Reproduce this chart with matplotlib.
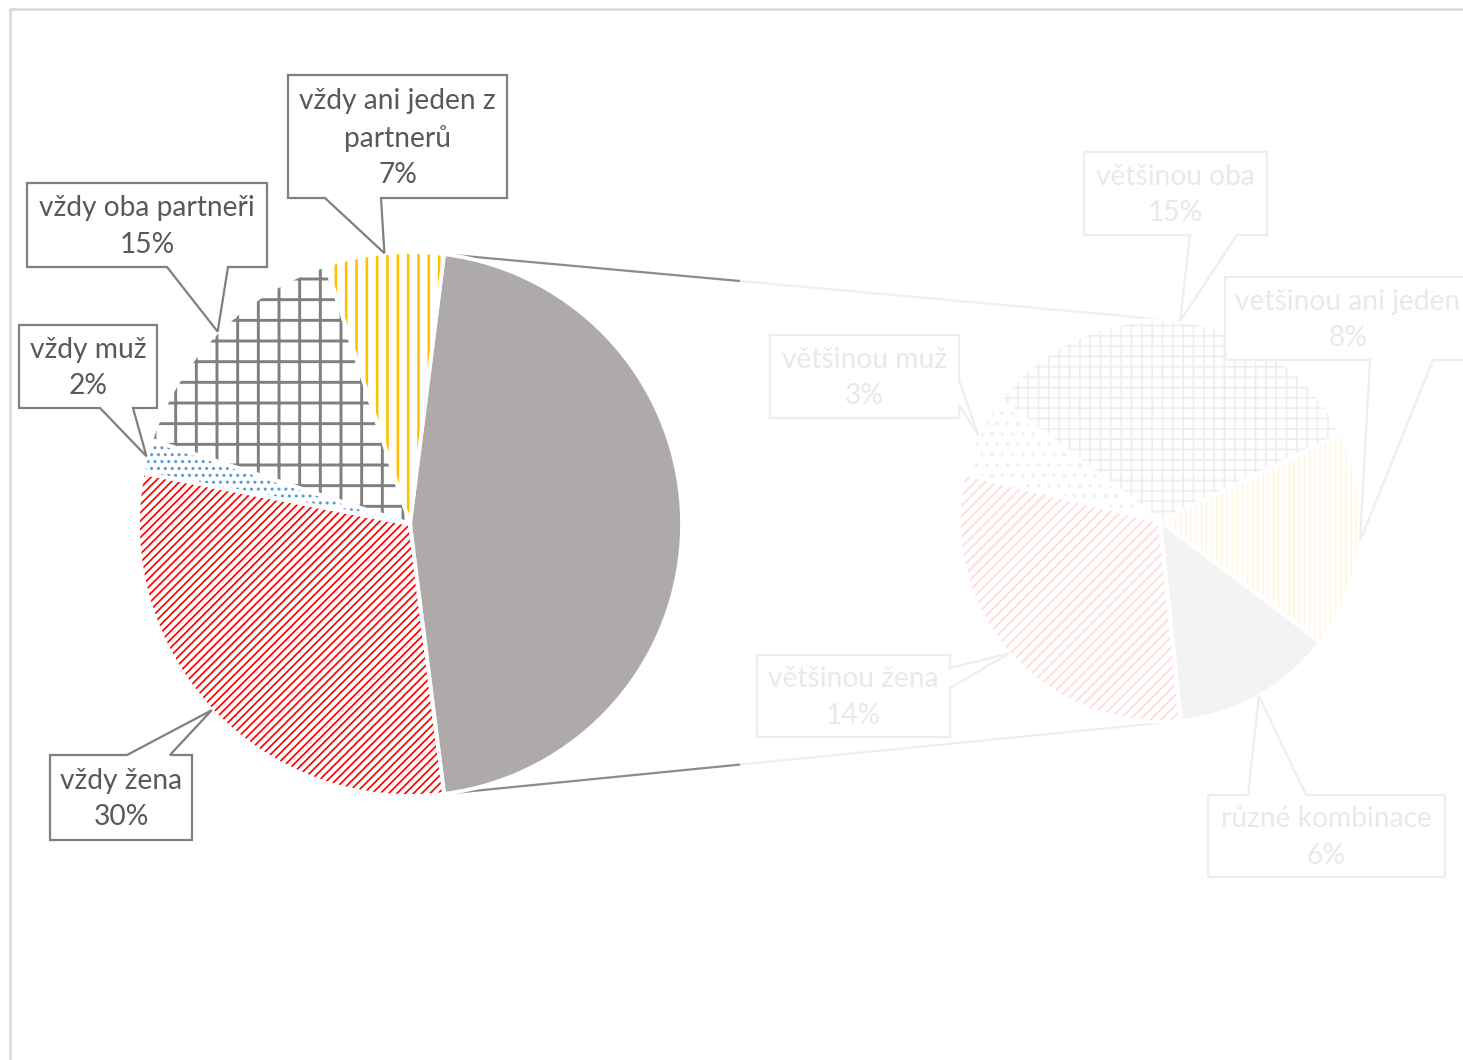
import matplotlib
matplotlib.use("Agg")
import matplotlib.pyplot as plt
from matplotlib.patches import Polygon, Rectangle
import numpy as np

plt.rcParams['font.family'] = ['Lato', 'DejaVu Sans']

# data - vzdy (left pie) a vetsinou (right pie)
vzdy_labels = ['vždy ani jeden z\npartnerů', 'vždy oba partneři', 'vždy muž', 'vždy žena']
vzdy_values = [7, 15, 2, 30]
vetsinou_labels = ['různé kombinace', 'vetšinou ani jeden', 'většinou oba', 'většinou muž', 'většinou žena']
vetsinou_values = [6, 8, 15, 3, 14]

W, H = 1463, 1060
DPI = 124


def Y(y):
    # image y (down) -> data y (up)
    return H - y


# styles: (face, hatch colour, hatch, hatch lw)
left_styles = [('#aeaaaa', '#aeaaaa', None, 1.0),
               ('white', '#ffc000', '||', 1.5),
               ('white', '#808080', '+', 1.7),
               ('white', '#5b9bd5', '...', 1.0),
               ('white', '#ff0000', '/////', 1.0)]
right_styles = [('#aeaaaa', '#aeaaaa', None, 1.0),
                ('white', '#ffc000', '||||', 0.9),
                ('white', '#808080', '++', 1.0),
                ('white', '#5b9bd5', '..', 1.0),
                ('white', '#ff0000', '////', 1.1)]

# callout boxes in image px: box, side, wedge base
left_callouts = [((288, 75, 507, 198), 'bottom', (325, 381)),
                 ((27, 183, 267, 267), 'bottom', (167, 228)),
                 ((19, 325, 157, 408), 'bottom', (100, 133)),
                 ((50, 755, 192, 840), 'top', (127, 170))]
right_callouts = [((1208, 795, 1445, 877), 'top', (1248, 1306)),
                  ((1225, 277, 1471, 360), 'bottom', (1370, 1433)),
                  ((1084, 152, 1267, 235), 'bottom', (1190, 1237)),
                  ((770, 335, 959, 418), 'right', (380, 405)),
                  ((757, 655, 950, 737), 'right', (668, 688))]

fig = plt.figure(figsize=(W / DPI, H / DPI), dpi=DPI)
ax = fig.add_axes([0, 0, 1, 1])


def draw_pie(values, center, r, start, styles):
    wedges, _ = ax.pie(values, center=center, radius=r, startangle=start,
                       counterclock=True, wedgeprops=dict(linewidth=0))
    for w, (fc, hc, hatch, hlw) in zip(wedges, styles):
        w.set_facecolor(fc)
        w.set_edgecolor(hc)
        w.set_linewidth(0)
        if hatch:
            w.set_hatch(hatch)
            if hasattr(w, 'set_hatch_linewidth'):
                w.set_hatch_linewidth(hlw)
        w.set_zorder(2)
    # white separators
    seps, _ = ax.pie(values, center=center, radius=r, startangle=start,
                     counterclock=True,
                     wedgeprops=dict(facecolor='none', edgecolor='white', linewidth=2.2))
    for s in seps:
        s.set_zorder(3)
    return wedges


def callout(box, side, base, tip, text):
    x0, y0, x1, y1 = box
    if side == 'bottom':
        pts = [(x0, y0), (x1, y0), (x1, y1), (base[1], y1), None, (base[0], y1), (x0, y1)]
    elif side == 'top':
        pts = [(x0, y0), (base[0], y0), None, (base[1], y0), (x1, y0), (x1, y1), (x0, y1)]
    else:
        pts = [(x0, y0), (x1, y0), (x1, base[0]), None, (x1, base[1]), (x1, y1), (x0, y1)]
    verts = [tip if p is None else (p[0], Y(p[1])) for p in pts]
    ax.add_patch(Polygon(verts, closed=True, facecolor='white', edgecolor='#808080',
                         linewidth=1.3, joinstyle='miter', zorder=5))
    ax.text((x0 + x1) / 2, Y((y0 + y1) / 2 + 1.5), text, ha='center', va='center',
            fontsize=16.3, color='#595959', linespacing=1.48, zorder=6)


left_c = (410, Y(524))
left_r = 272
right_c = (1160, Y(521))
right_r = 201

left_values = [sum(vetsinou_values)] + vzdy_values
left_start = -left_values[0] / sum(left_values) * 360 / 2
lw = draw_pie(left_values, left_c, left_r, left_start, left_styles)
rw = draw_pie(vetsinou_values, right_c, right_r, -84, right_styles)


def edge_point(c, r, ang):
    a = np.deg2rad(ang)
    return (c[0] + r * np.cos(a), c[1] + r * np.sin(a))


# connector lines
for la, ra in [(lw[0].theta2, 84), (lw[0].theta1, -84)]:
    p1 = edge_point(left_c, left_r, la)
    p2 = edge_point(right_c, right_r, ra)
    ax.plot([p1[0], p2[0]], [p1[1], p2[1]], color='#8c8c8c', lw=1.3, zorder=1)

# labels
for w, lab, v, (box, side, base) in zip(lw[1:], vzdy_labels, vzdy_values, left_callouts):
    tip = edge_point(left_c, left_r, (w.theta1 + w.theta2) / 2)
    callout(box, side, base, tip, f'{lab}\n{v}%')
for w, lab, v, (box, side, base) in zip(rw, vetsinou_labels, vetsinou_values, right_callouts):
    tip = edge_point(right_c, right_r, (w.theta1 + w.theta2) / 2)
    callout(box, side, base, tip, f'{lab}\n{v}%')

# faded right half
ax.add_patch(Rectangle((740, 0), W - 740, Y(11), facecolor='white', edgecolor='none',
                       alpha=0.87, zorder=20))

# chart frame (cropped)
ax.plot([9, W], [Y(9), Y(9)], color='#d9d9d9', lw=1.5, zorder=30, solid_capstyle='butt')
ax.plot([10, 10], [Y(9), 0], color='#d9d9d9', lw=1.5, zorder=30, solid_capstyle='butt')

ax.set_xlim(0, W)
ax.set_ylim(0, H)
ax.set_aspect('auto')
ax.axis('off')

fig.savefig('out.png', dpi=DPI, facecolor='white')
